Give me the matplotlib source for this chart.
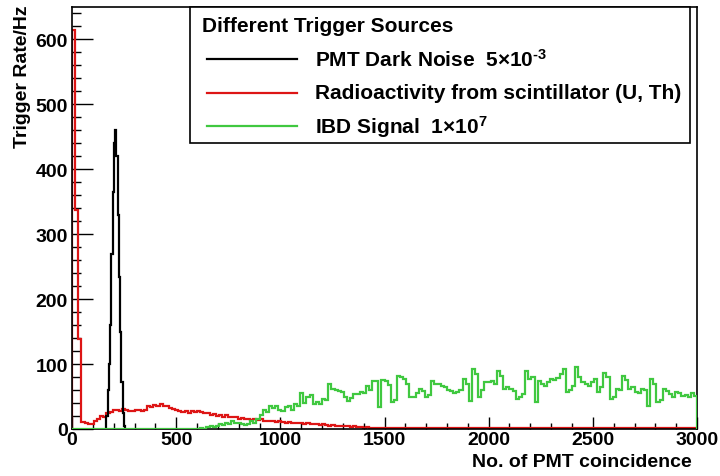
import numpy as np
import matplotlib
matplotlib.use("Agg")
import matplotlib.pyplot as plt
from matplotlib.patches import Rectangle

plt.rcParams['font.family'] = ['Liberation Sans', 'DejaVu Sans']
plt.rcParams['font.weight'] = 'bold'
plt.rcParams['mathtext.fontset'] = 'custom'
plt.rcParams['mathtext.bf'] = 'Liberation Sans:bold'
plt.rcParams['mathtext.rm'] = 'Liberation Sans:bold'
plt.rcParams['mathtext.default'] = 'bf'

# histogram binning (No. of PMT coincidence)
bin_width = 15
x_max = 3000

# PMT dark noise peak (finer bins)
dark_edges = np.arange(165, 256, 6)
dark_noise = [20, 60, 100, 160, 270, 365, 440, 460, 420, 330, 234, 150, 72, 25, 5]

# radioactivity from scintillator (U, Th), 15-wide bins 0..3000
radio = [
    615, 338, 138, 11, 9, 7, 8, 12, 15, 20,
    18, 24, 26, 29, 30, 28, 31, 30, 28, 27,
    29, 30, 27, 30, 36, 34, 37, 35, 38, 36,
    35, 33, 31, 30, 28, 26, 27, 25, 28, 26,
    28, 26, 24, 25, 22, 23, 20, 22, 19, 21,
    18, 19, 18, 16, 17, 15, 16, 14, 15, 14,
    15, 13, 12, 13, 12, 11, 12, 11, 10, 11,
    10, 9, 10, 9, 8, 9, 7, 8, 7, 6,
    7, 6, 5, 6, 5, 4, 5, 4, 4, 3,
    4, 3, 3, 2, 3, 2, 2, 2, 1, 2,
    1, 1, 2, 1, 1, 1, 2, 1, 1, 1,
    1, 2, 1, 1, 1, 1, 1, 2, 1, 1,
    1, 1, 1, 1, 2, 1, 1, 1, 1, 1,
    1, 1, 1, 2, 1, 1, 1, 1, 1, 1,
    1, 1, 1, 1, 1, 1, 2, 1, 1, 1,
    1, 1, 1, 1, 1, 1, 1, 1, 1, 1,
    1, 1, 2, 1, 1, 1, 1, 1, 1, 1,
    1, 1, 1, 1, 1, 1, 1, 1, 2, 1,
    1, 1, 1, 1, 1, 1, 1, 1, 1, 1,
    1, 1, 1, 1, 1, 1, 1, 1, 1, 1,
]

# IBD signal, 15-wide bins 0..3000
ibd = [
    0, 0, 0, 0, 0, 0, 0, 0, 0, 0,
    0, 0, 0, 0, 0, 0, 0, 0, 0, 0,
    0, 0, 0, 0, 0, 0, 0, 0, 0, 0,
    0, 0, 0, 0, 0, 0, 0, 0, 0, 0,
    0, 2, 0, 3, 5, 3,
    5, 8, 6, 10, 7, 12, 9, 10, 8, 6,
    8, 12, 10, 15, 22,
    30, 26, 36, 32, 36, 30,
    28, 34, 36, 30, 38, 36,
    56, 40, 49, 52, 38, 42,
    38, 46, 44, 69, 62, 60,
    59, 57, 50, 43, 47, 54,
    54, 57, 55, 66, 60, 74,
    74, 34, 76, 74, 68, 41,
    45, 82, 80, 77, 70, 49,
    49, 55, 62, 58, 49, 52, 74, 70, 69, 66, 64, 60,
    59, 55, 57, 60, 77, 70, 43, 92, 85, 49, 60, 72,
    72, 74, 70, 90, 82, 62, 65, 62, 58, 46,
    50, 54, 90, 77, 80, 41, 74, 70, 67, 72,
    77, 75, 79, 85, 92, 57, 60, 67, 95, 80,
    72, 70, 67, 72, 77, 57, 65, 87, 80, 46,
    50, 62, 60, 82, 75, 62, 64, 57, 55, 62,
    60, 36, 77, 70, 41, 45, 62, 58, 54, 50,
    57, 55, 51, 53, 50, 55, 51,
]

edges = np.arange(0, x_max + bin_width, bin_width)

legend_title = "Different Trigger Sources"
labels = [r"PMT Dark Noise  5×10$^{\text{-3}}$",
          "Radioactivity from scintillator (U, Th)",
          r"IBD Signal  1×10$^{\text{7}}$"]
colors = ["black", "#dd1515", "#40c840"]

W, H = 720, 477
fig = plt.figure(figsize=(W / 100, H / 100), dpi=100)
ax = fig.add_axes([72 / W, 1 - 430 / H, (697 - 72) / W, (430 - 8) / H])

ax.stairs(radio, edges, baseline=0, color=colors[1], lw=1.6, zorder=2)
ax.stairs(dark_noise, dark_edges, baseline=0, color=colors[0], lw=1.6, zorder=3)
ax.stairs(ibd, edges, baseline=0, color=colors[2], lw=1.6, zorder=4)

ax.set_xlim(0, x_max)
ax.set_ylim(0, 650)
ax.set_xticks(np.arange(0, 3001, 500))
ax.set_xticks(np.arange(0, 3001, 100), minor=True)
ax.set_yticks(np.arange(0, 601, 100))
ax.set_yticks(np.arange(0, 641, 20), minor=True)
ax.tick_params(axis='both', which='both', direction='in', width=1.0,
               top=False, right=False, labelsize=14)
ax.tick_params(axis='y', which='major', length=15, pad=3)
ax.tick_params(axis='y', which='minor', length=6.5)
ax.tick_params(axis='x', which='major', length=8.5, pad=1.5)
ax.tick_params(axis='x', which='minor', length=4)
for lab in ax.get_xticklabels() + ax.get_yticklabels():
    lab.set_fontweight('bold')
for sp in ax.spines.values():
    sp.set_linewidth(1.2)

fig.text(692 / W, 1 - 463 / H, "No. of PMT coincidence", ha='right', va='center',
         fontsize=14, fontweight='bold')
fig.text(23 / W, 1 - 5 / H, "Trigger Rate/Hz", rotation=90, ha='center', va='top',
         fontsize=14, fontweight='bold')

# legend box
box = Rectangle((190 / W, 1 - 144 / H), 500 / W, 136 / H, transform=fig.transFigure,
                facecolor='white', edgecolor='black', lw=1.2, zorder=10)
fig.patches.append(box)
fig.text(202 / W, 1 - 26 / H, legend_title, ha='left', va='center', fontsize=15,
         fontweight='bold', zorder=11)
for i, (lab, col) in enumerate(zip(labels, colors)):
    yy = 1 - (60 + 33.5 * i) / H
    fig.add_artist(plt.Line2D([207 / W, 297 / W], [yy, yy], color=col, lw=1.6,
                              transform=fig.transFigure, zorder=11))
    fig.text(315 / W, yy, lab, ha='left', va='center', fontsize=15,
             fontweight='bold', zorder=11)

fig.savefig("out.png", dpi=100)
